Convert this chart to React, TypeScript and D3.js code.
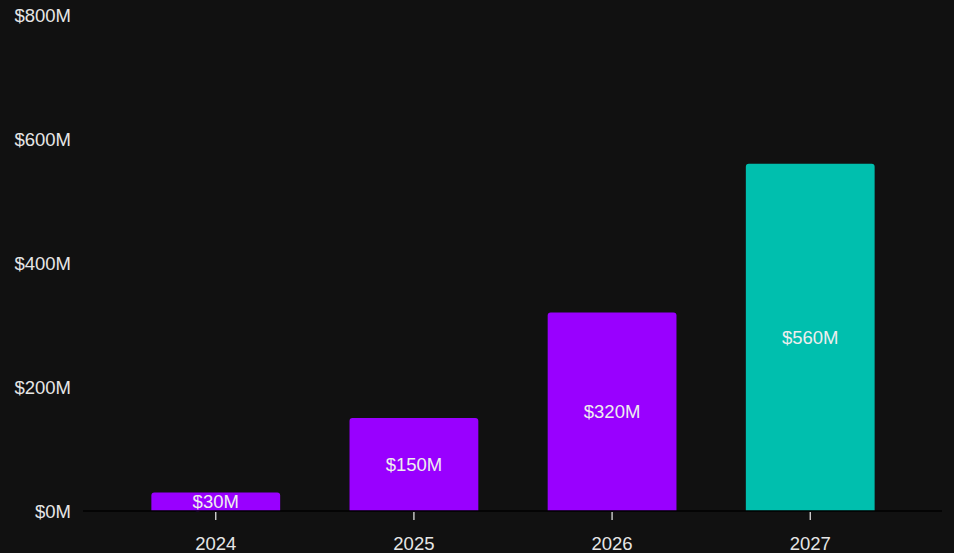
import React, { useEffect } from "react";
import * as d3 from "d3";

const years = ["2024", "2025", "2026", "2027"];
const values = [30, 150, 320, 560];
const barColors = ["#9900ff", "#9900ff", "#9900ff", "#00bfae"];
const yTicks = [0, 200, 400, 600, 800];

const W = 954;
const H = 553;

export default function App() {
  useEffect(() => {
    document.body.style.margin = "0";
    document.body.style.background = "#111111";
  }, []);

  const x = d3.scaleBand<string>().domain(years).range([83, 943]).paddingInner(0.35).paddingOuter(0.345);
  const y = d3.scaleLinear().domain([0, 800]).range([511, 15]);
  const font = "'Liberation Sans', Arial, sans-serif";

  return (
    <svg width={W} height={H} style={{ display: "block", background: "#111111" }} fontFamily={font}>
      <rect x={0} y={0} width={W} height={H} fill="#111111" />
      {yTicks.map((t) => (
        <text key={t} x={71} y={y(t)} textAnchor="end" dominantBaseline="central" fill="#e6e6e6" fontSize={18.5}>
          {`$${t}M`}
        </text>
      ))}
      {years.map((yr, i) => {
        const x0 = x(yr)!;
        const bw = x.bandwidth();
        const top = y(values[i]);
        const h = y(0) - top;
        return (
          <g key={yr}>
            <path
              d={`M${x0},${y(0)} V${top + 3} Q${x0},${top} ${x0 + 3},${top} H${x0 + bw - 3} Q${x0 + bw},${top} ${x0 + bw},${top + 3} V${y(0)} Z`}
              fill={barColors[i]}
            />
            <text
              x={x0 + bw / 2}
              y={top + h / 2}
              textAnchor="middle"
              dominantBaseline="central"
              fontSize={18.5}
              fill="#eeeeee"
              stroke={barColors[i]}
              strokeWidth={4}
              strokeLinejoin="round"
              paintOrder="stroke"
            >
              {`$${values[i]}M`}
            </text>
          </g>
        );
      })}
      <line x1={83} x2={942} y1={y(0)} y2={y(0)} stroke="#000000" strokeWidth={1.5} />
      {years.map((yr) => {
        const cx = x(yr)! + x.bandwidth() / 2;
        return (
          <g key={"t" + yr}>
            <line x1={cx} x2={cx} y1={512} y2={520} stroke="#eeeeee" strokeWidth={1.2} />
            <text x={cx} y={543} textAnchor="middle" dominantBaseline="central" fill="#e6e6e6" fontSize={18.5}>
              {yr}
            </text>
          </g>
        );
      })}
    </svg>
  );
}
